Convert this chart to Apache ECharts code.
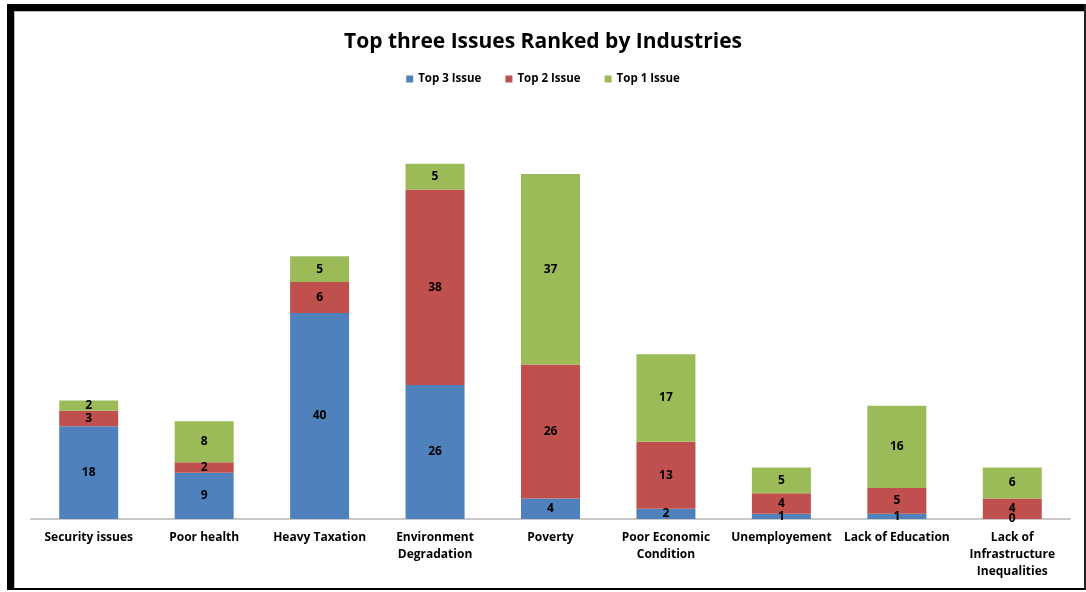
<!DOCTYPE html>
<html><head><meta charset="utf-8">
<script src="https://cdn.jsdelivr.net/npm/echarts@6/dist/echarts.min.js"></script>
<style>
html,body{margin:0;padding:0;background:#fff;}
#c{position:absolute;left:0;top:0;width:1086px;height:592px;}
.b{position:absolute;pointer-events:none;}
</style></head><body>
<div id="c"></div>
<div class="b" style="left:7px;top:4px;width:1079px;height:7px;background:#000"></div>
<div class="b" style="left:7px;top:4px;width:7px;height:586px;background:#000"></div>
<div class="b" style="left:7px;top:588px;width:1079px;height:2px;background:#000"></div>
<div class="b" style="left:1084px;top:4px;width:2px;height:586px;background:#222"></div>
<div class="b" style="left:14px;top:11px;width:1070px;height:1px;background:#bbb"></div>
<div class="b" style="left:14px;top:11px;width:1px;height:577px;background:#bbb"></div>
<script>
var categories = ['Security issues','Poor health','Heavy Taxation','Environment\nDegradation','Poverty','Poor Economic\nCondition','Unemployement','Lack of Education','Lack of\nInfrastructure\nInequalities'];
var top3 = [18, 9, 40, 26, 4, 2, 1, 1, 0];
var top2 = [3, 2, 6, 38, 26, 13, 4, 5, 4];
var top1 = [2, 8, 5, 5, 37, 17, 5, 16, 6];
var seriesNames = ['Top 3 Issue','Top 2 Issue','Top 1 Issue'];
var colors = ['#4F81BD','#C0504D','#9BBB59'];

var FONT = '"Liberation Sans Narrow", "Open Sans", sans-serif';
var chart = echarts.init(document.getElementById('c'));
function mk(name, data, color){
  return {
    name: name, type: 'bar', stack: 'all', data: data, barWidth: 59,
    itemStyle: {color: color},
    label: {show: true, position: 'inside', color: '#000', fontWeight: 'bold', fontSize: 12, fontFamily: FONT},
    emphasis: {disabled: true}
  };
}
chart.setOption({
  animation: false,
  title: {text: 'Top three Issues Ranked by Industries', left: 'center', top: 27,
    textStyle: {fontSize: 21, fontWeight: 'bold', color: '#000', fontFamily: FONT}},
  legend: {top: 68, left: 'center', itemWidth: 7, itemHeight: 7, itemGap: 24,
    icon: 'rect',
    textStyle: {fontSize: 11.5, fontWeight: 'bold', color: '#000', fontFamily: FONT}},
  grid: {left: 31, right: 16, top: 107, bottom: 73},
  xAxis: {type: 'category', data: categories,
    axisLine: {lineStyle: {color: '#c8c8c8', width: 2}},
    axisTick: {show: false},
    axisLabel: {interval: 0, margin: 10, color: '#000', fontWeight: 'bold', fontSize: 12, lineHeight: 17, fontFamily: FONT}},
  yAxis: {type: 'value', min: 0, max: 80, show: false, splitLine: {show: false}},
  series: [mk(seriesNames[0], top3, colors[0]), mk(seriesNames[1], top2, colors[1]), mk(seriesNames[2], top1, colors[2])]
});
</script>
</body></html>
